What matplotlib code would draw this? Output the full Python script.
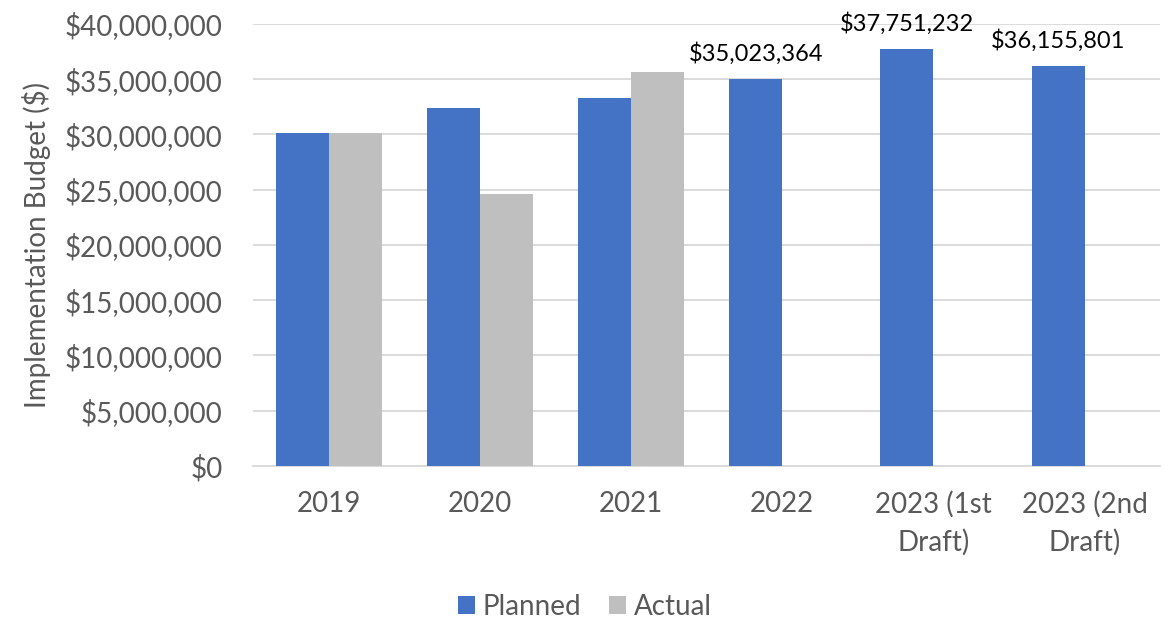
import numpy as np
import matplotlib.pyplot as plt
from matplotlib.ticker import FuncFormatter

categories = ['2019', '2020', '2021', '2022', '2023 (1st\nDraft)', '2023 (2nd\nDraft)']
planned = [30100000, 32400000, 33260000, 35023364, 37751232, 36155801]
actual = [30100000, 24570000, 35630000, 0, 0, 0]
labelled = [3, 4, 5]  # bars that carry a value label

plt.rcParams['font.family'] = ['Lato', 'DejaVu Sans']
text_grey = '#595959'

fig = plt.figure(figsize=(11.66, 6.23), dpi=100)
ax = fig.add_axes([0.217, 0.252, 0.778, 0.7095])

x = np.arange(len(categories))
w = 0.35
ax.bar(x - w / 2, planned, w, color='#4472c4', label='Planned', zorder=3)
ax.bar(x + w / 2, actual, w, color='#bfbfbf', label='Actual', zorder=3)

for i in labelled:
    ax.text(x[i] - w / 2, planned[i] + 1300000, f'${planned[i]:,.0f}',
            ha='center', va='bottom', fontsize=17, color='black', clip_on=False)

ax.set_ylim(0, 40000000)
ax.set_xlim(-0.5, len(categories) - 0.5)
ax.set_yticks(np.arange(0, 40000001, 5000000))
ax.yaxis.set_major_formatter(FuncFormatter(lambda v, p: f'${v:,.0f}'))
ax.grid(axis='y', color='#d9d9d9', linewidth=1.3, zorder=0)
ax.set_xticks(x)
ax.set_xticklabels(categories, linespacing=1.5)

for s in ['top', 'right', 'left']:
    ax.spines[s].set_visible(False)
ax.spines['bottom'].set_color('#d9d9d9')
ax.spines['bottom'].set_linewidth(1.3)

ax.tick_params(axis='y', length=0, pad=22, labelsize=20, labelcolor=text_grey)
ax.tick_params(axis='x', length=0, pad=18, labelsize=20, labelcolor=text_grey)
ax.set_ylabel('Implementation Budget ($)', fontsize=20, color=text_grey, labelpad=10)

ax.legend(loc='center', bbox_to_anchor=(0.366, -0.319), ncol=2, frameon=False,
          fontsize=20, labelcolor=text_grey, handlelength=0.6, handleheight=0.6,
          handletextpad=0.3, columnspacing=1.0)

fig.savefig('out.png', dpi=100)
